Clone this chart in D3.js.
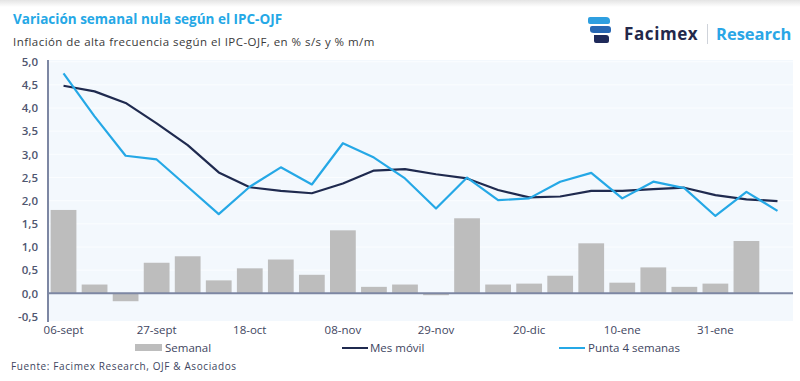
<!DOCTYPE html>
<html>
<head>
<meta charset="utf-8">
<script src="https://cdn.jsdelivr.net/npm/d3@7"></script>
<style>
  body { margin: 0; background: #fff; }
  svg { display: block; font-family: "Open Sans", sans-serif; }
</style>
</head>
<body>
<div id="chart"></div>
<script>
// weekly dates (24 weeks), only every third one is labelled
const weeks = ["06-sept", "13-sept", "20-sept", "27-sept", "04-oct", "11-oct", "18-oct", "25-oct",
  "01-nov", "08-nov", "15-nov", "22-nov", "29-nov", "06-dic", "13-dic", "20-dic", "27-dic",
  "03-ene", "10-ene", "17-ene", "24-ene", "31-ene", "07-feb", "14-feb"];
const tickLabels = ["06-sept", "27-sept", "18-oct", "08-nov", "29-nov", "20-dic", "10-ene", "31-ene"];
const yTicks = [-0.5, 0, 0.5, 1, 1.5, 2, 2.5, 3, 3.5, 4, 4.5, 5];

// % s/s
const semanal = [1.80, 0.19, -0.17, 0.66, 0.80, 0.28, 0.54, 0.73, 0.40, 1.36, 0.14, 0.19,
  -0.04, 1.62, 0.19, 0.21, 0.38, 1.08, 0.23, 0.56, 0.14, 0.21, 1.13];
// % m/m
const mesMovil = [4.48, 4.36, 4.11, 3.67, 3.20, 2.61, 2.29, 2.21, 2.16, 2.37, 2.65, 2.68,
  2.57, 2.48, 2.23, 2.07, 2.09, 2.21, 2.21, 2.25, 2.28, 2.12, 2.03, 1.99];
const punta4 = [4.75, 3.82, 2.97, 2.89, 2.30, 1.71, 2.30, 2.72, 2.35, 3.24, 2.93, 2.48,
  1.83, 2.50, 2.01, 2.05, 2.41, 2.60, 2.05, 2.41, 2.27, 1.67, 2.19, 1.78];

const W = 800, H = 381;
const plot = { left: 48, right: 793, top: 60, bottom: 321 };

const navy = "#1f2a4f", sky = "#25a8e6", grey = "#bdbdbd", axisCol = "#7d87a3";

const svg = d3.select("#chart").append("svg")
  .attr("width", W)
  .attr("height", H);

// faint shadow on the top edge
const defs = svg.append("defs");
const grad = defs.append("linearGradient").attr("id", "topShade").attr("x1", 0).attr("x2", 0).attr("y1", 0).attr("y2", 1);
grad.append("stop").attr("offset", 0).attr("stop-color", "#e4e4e4");
grad.append("stop").attr("offset", 1).attr("stop-color", "#ffffff");
svg.append("rect").attr("width", W).attr("height", 7).attr("fill", "url(#topShade)");

// titles
svg.append("text")
  .attr("x", 13).attr("y", 24)
  .attr("font-size", 13.5).attr("font-weight", 700)
  .attr("fill", sky)
  .text("Variación semanal nula según el IPC-OJF");

svg.append("text")
  .attr("x", 13).attr("y", 46)
  .attr("font-size", 11.5).attr("fill", "#3a3a3a")
  .attr("letter-spacing", 0.45)
  .text("Inflación de alta frecuencia según el IPC-OJF, en % s/s y % m/m");

// logo
const logo = svg.append("g").attr("transform", "translate(588,17)");
logo.append("path").attr("d", "M2,0 H18 Q22,0 22,4 V5 Q22,7 20,7 H2 Q0,7 0,5 V2 Q0,0 2,0 Z").attr("fill", "#2e9fe0");
logo.append("path").attr("d", "M2,9 H20 Q23,9 23,12 V14 Q23,16 21,16 H6 Q2,16 2,13 V11 Q2,9 4,9 Z").attr("fill", "#2767b3");
logo.append("path").attr("d", "M6,18 H18 Q21,18 21,21 V24 Q21,26 19,26 H8 Q6,26 6,24 Z").attr("fill", "#1f2a5a");
svg.append("text")
  .attr("x", 624).attr("y", 40)
  .attr("font-size", 17).attr("font-weight", 700).attr("fill", "#23284a")
  .attr("letter-spacing", 0.6)
  .text("Facimex");
svg.append("line")
  .attr("x1", 707.5).attr("x2", 707.5).attr("y1", 24).attr("y2", 44)
  .attr("stroke", "#cfd3da").attr("stroke-width", 1);
svg.append("text")
  .attr("x", 716).attr("y", 40)
  .attr("font-size", 16.5).attr("font-weight", 700).attr("fill", "#2aa6e6")
  .text("Research");

// scales
const x = d3.scaleBand()
  .domain(weeks)
  .range([plot.left, plot.right])
  .paddingInner(0.17)
  .paddingOuter(0.085);

const y = d3.scaleLinear()
  .domain([-0.5, 5])
  .range([316.5, 61.7]);

// plot background + faint grid
svg.append("rect")
  .attr("x", plot.left).attr("y", plot.top)
  .attr("width", plot.right - plot.left).attr("height", plot.bottom - plot.top)
  .attr("fill", "#f3f8fd");

svg.append("g")
  .selectAll("line")
  .data(yTicks.filter(d => d > 0))
  .join("line")
  .attr("x1", plot.left).attr("x2", plot.right)
  .attr("y1", d => y(d)).attr("y2", d => y(d))
  .attr("stroke", "#fbfdff").attr("stroke-width", 1);

// bars
svg.append("g")
  .selectAll("rect")
  .data(semanal)
  .join("rect")
  .attr("x", (d, i) => x(weeks[i]))
  .attr("width", x.bandwidth())
  .attr("y", d => y(Math.max(0, d)))
  .attr("height", d => Math.abs(y(d) - y(0)))
  .attr("fill", grey);

// zero line
svg.append("line")
  .attr("x1", plot.left).attr("x2", plot.right)
  .attr("y1", y(0)).attr("y2", y(0))
  .attr("stroke", axisCol).attr("stroke-width", 2);

// lines
const cx = i => x(weeks[i]) + x.bandwidth() / 2;
const line = d3.line().x((d, i) => cx(i)).y(d => y(d));

svg.append("path")
  .datum(mesMovil)
  .attr("d", line)
  .attr("fill", "none")
  .attr("stroke", navy)
  .attr("stroke-width", 2.2)
  .attr("stroke-linejoin", "round");

svg.append("path")
  .datum(punta4)
  .attr("d", line)
  .attr("fill", "none")
  .attr("stroke", sky)
  .attr("stroke-width", 2.2)
  .attr("stroke-linejoin", "round");

// y axis
const yAxis = d3.axisLeft(y)
  .tickValues(yTicks)
  .tickSize(0)
  .tickPadding(10)
  .tickFormat(d => d3.format(".1f")(d).replace(".", ",").replace("−", "-"));

const gy = svg.append("g")
  .attr("transform", `translate(${plot.left},0)`)
  .call(yAxis);
gy.select(".domain").remove();
gy.selectAll("text")
  .attr("font-size", 11.5).attr("font-weight", 600)
  .attr("fill", "#4f5670")
  .attr("font-family", "Open Sans, sans-serif");

svg.append("line")
  .attr("x1", plot.left).attr("x2", plot.left)
  .attr("y1", 60).attr("y2", 322)
  .attr("stroke", axisCol).attr("stroke-width", 2);

// x axis labels (every third week)
const xAxis = d3.axisBottom(x)
  .tickValues(tickLabels)
  .tickSize(0)
  .tickPadding(0);

const gx = svg.append("g")
  .attr("transform", `translate(0,${322})`)
  .call(xAxis);
gx.select(".domain").remove();
gx.selectAll("text")
  .attr("dy", 12)
  .attr("font-size", 11.5)
  .attr("fill", "#3e4560")
  .attr("font-family", "Open Sans, sans-serif");

// legend
const legend = svg.append("g").attr("font-size", 11.5).attr("fill", "#3e4560");
legend.append("rect").attr("x", 135).attr("y", 344).attr("width", 27).attr("height", 7).attr("fill", grey);
legend.append("text").attr("x", 165).attr("y", 352).text("Semanal");
legend.append("line").attr("x1", 342).attr("x2", 368).attr("y1", 348).attr("y2", 348)
  .attr("stroke", navy).attr("stroke-width", 2);
legend.append("text").attr("x", 370).attr("y", 352).text("Mes móvil");
legend.append("line").attr("x1", 559).attr("x2", 585).attr("y1", 348).attr("y2", 348)
  .attr("stroke", sky).attr("stroke-width", 2);
legend.append("text").attr("x", 588).attr("y", 352).text("Punta 4 semanas");

// source
svg.append("text")
  .attr("x", 11).attr("y", 370)
  .attr("font-size", 10).attr("fill", "#3e4560")
  .attr("letter-spacing", 0.6)
  .text("Fuente: Facimex Research, OJF & Asociados");
</script>
</body>
</html>
